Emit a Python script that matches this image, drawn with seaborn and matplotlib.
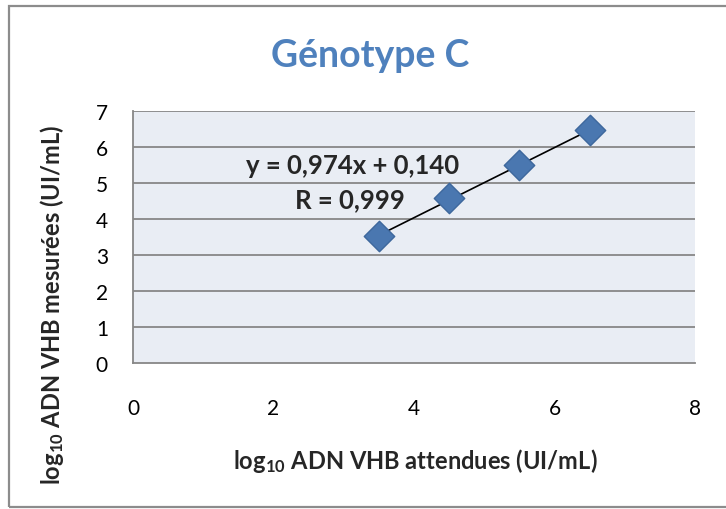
import matplotlib
matplotlib.use("Agg")
import matplotlib.pyplot as plt
import seaborn as sns
import pandas as pd
import numpy as np
from matplotlib.patches import Rectangle

# Measured vs expected HBV DNA load (log10 IU/mL), genotype C
expected = [3.5, 4.5, 5.5, 6.5]
measured = [3.52, 4.58, 5.51, 6.46]
slope = 0.974
intercept = 0.140
r_value = 0.999
x_ticks = [0, 2, 4, 6, 8]
y_ticks = [0, 1, 2, 3, 4, 5, 6, 7]

df = pd.DataFrame({"attendue": expected, "mesuree": measured})

sns.set_theme(style="white")
plt.rcParams["font.family"] = ["Lato", "DejaVu Sans"]
plt.rcParams["mathtext.fontset"] = "custom"
plt.rcParams["mathtext.rm"] = "Lato:bold"
plt.rcParams["mathtext.bf"] = "Lato:bold"
plt.rcParams["mathtext.it"] = "Lato:bold:italic"

W, H = 726, 510
fig = plt.figure(figsize=(W / 100, H / 100), dpi=100)
ax = fig.add_axes([133 / W, 1 - 364 / H, (695 - 133) / W, (364 - 112) / H])

# outer chart frame (right side runs off the canvas)
fig.patches.append(Rectangle((9 / W, 2 / H), 740 / W, 501 / H, transform=fig.transFigure,
                             fill=False, edgecolor="#8c8c8c", linewidth=1.6))

grid_col = "#878787"
ax.set_facecolor("#E9EDF4")
for y in y_ticks[1:]:
    ax.axhline(y, color=grid_col, linewidth=1.3, zorder=1)

# trend line from the fitted equation
xs = np.array([expected[0], expected[-1]])
ax.plot(xs, slope * xs + intercept, color="black", linewidth=1.2, zorder=2)

sns.scatterplot(data=df, x="attendue", y="mesuree", marker="D", s=240, color="#4A77B0",
                edgecolor="#3D679C", linewidth=1, ax=ax, zorder=3, legend=False)

ax.set_xlim(0, 8)
ax.set_ylim(0, 7)
ax.set_xticks(x_ticks)
ax.set_yticks(y_ticks)
ax.tick_params(axis="both", labelsize=15, colors="black", length=6, width=1.3, direction="out",
               color=grid_col)
ax.tick_params(axis="x", pad=19)
ax.tick_params(axis="y", pad=12)
for s in ["top", "right"]:
    ax.spines[s].set_visible(False)
for s in ["left", "bottom"]:
    ax.spines[s].set_color(grid_col)
    ax.spines[s].set_linewidth(1.3)
ax.set_xlabel("")
ax.set_ylabel("")

fig.text(415 / W, 1 - 461 / H, r"log$_{\mathrm{10}}$ ADN VHB attendues (UI/mL)", ha="center",
         va="center", fontsize=17, fontweight="bold")
fig.text(52 / W, 1 - 305 / H, r"log$_{\mathrm{10}}$ ADN VHB mesurées (UI/mL)", ha="center",
         va="center", rotation=90, fontsize=17, fontweight="bold")

ax.text(3.12, 5.5, f"y = {slope:.3f}x + {intercept:.3f}".replace(".", ","), ha="center",
        va="center", fontsize=18.5, fontweight="bold")
ax.text(3.09, 4.56, f"R = {r_value:.3f}".replace(".", ","), ha="center", va="center",
        fontsize=18.5, fontweight="bold")

fig.text(370 / W, 1 - 67 / H, "Génotype C", ha="center", va="baseline", fontsize=27,
         fontweight="bold", color="#4F81BD")

fig.savefig("out.png", dpi=100)
